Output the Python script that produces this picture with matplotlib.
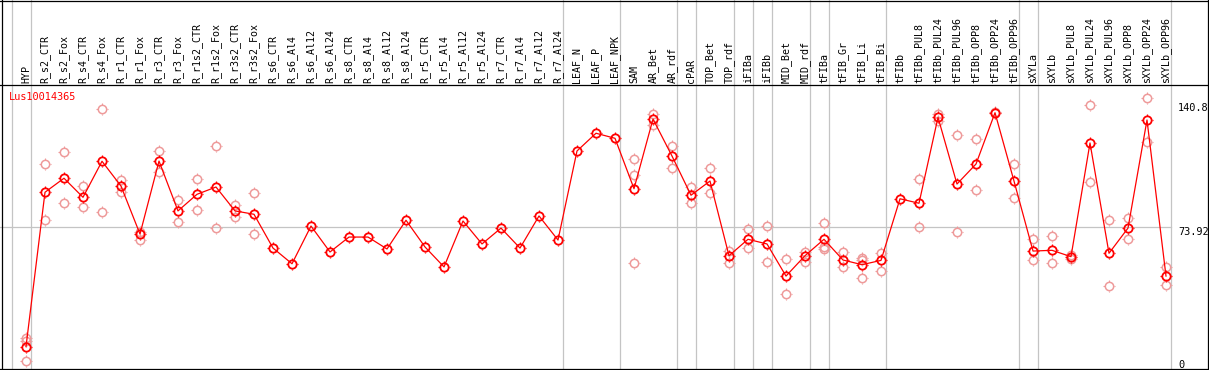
import matplotlib
matplotlib.use("Agg")
import matplotlib.pyplot as plt
from matplotlib.path import Path
import numpy as np

categories = [
    "HYP", "R_s2_CTR", "R_s2_Fox", "R_s4_CTR", "R_s4_Fox", "R_r1_CTR", "R_r1_Fox",
    "R_r3_CTR", "R_r3_Fox", "R_r1s2_CTR", "R_r1s2_Fox", "R_r3s2_CTR", "R_r3s2_Fox",
    "R_s6_CTR", "R_s6_Al4", "R_s6_Al12", "R_s6_Al24", "R_s8_CTR", "R_s8_Al4",
    "R_s8_Al12", "R_s8_Al24", "R_r5_CTR", "R_r5_Al4", "R_r5_Al12", "R_r5_Al24",
    "R_r7_CTR", "R_r7_Al4", "R_r7_Al12", "R_r7_Al24", "LEAF_N", "LEAF_P", "LEAF_NPK",
    "SAM", "AR_Bet", "AR_rdf", "cPAR", "TOP_Bet", "TOP_rdf", "iFIBa", "iFIBb",
    "MID_Bet", "MID_rdf", "tFIBa", "tFIB_Gr", "tFIB_Li", "tFIB_Bi", "tFIBb",
    "tFIBb_PUL8", "tFIBb_PUL24", "tFIBb_PUL96", "tFIBb_OPP8", "tFIBb_OPP24",
    "tFIBb_OPP96", "sXYLa", "sXYLb", "sXYLb_PUL8", "sXYLb_PUL24", "sXYLb_PUL96",
    "sXYLb_OPP8", "sXYLb_OPP24", "sXYLb_OPP96",
]

means = [
    10.1, 92.8, 100.3, 90.1, 109.4, 96.1, 70.4, 109.5, 82.8, 91.7, 95.6, 82.8, 81.0,
    62.9, 54.5, 74.7, 60.8, 68.8, 68.8, 62.4, 77.8, 63.5, 52.8, 77.4, 65.1,
    73.6, 62.9, 80.1, 67.2, 114.9, 124.4, 121.7,
    94.7, 132.0, 112.2, 91.2, 98.8, 58.8, 67.6, 65.1, 47.9, 58.8, 67.6, 56.5,
    54.0, 56.3, 89.3, 86.9, 132.9, 97.2, 107.9, 135.4, 98.8, 61.3, 61.7, 58.3,
    119.2, 60.1, 73.6, 131.5, 47.9,
]

replicates = [
    [14.8, 13.2, 2.4], [107.9, 77.9], [114.2, 86.9], [96.0, 84.7], [137.4, 82.1],
    [99.4, 92.8], [67.2, 71.7], [114.9, 103.5], [88.6, 76.7], [99.9, 83.3],
    [117.6, 73.6], [86.0, 79.4], [92.4, 70.4],
    [], [], [], [], [], [], [], [], [], [], [], [], [], [], [], [], [], [], [],
    [110.4, 102.0, 54.9], [134.7, 128.8], [117.6, 105.9], [95.6, 86.9],
    [105.6, 92.2], [61.3, 54.9], [72.9, 62.8], [74.7, 55.3], [56.9, 38.1],
    [61.0, 55.6], [76.2, 63.6, 62.2], [60.8, 52.6], [57.7, 56.5, 46.7],
    [60.4, 50.5], [], [99.7, 74.0], [134.7, 131.1], [123.5, 71.3], [121.2, 94.0],
    [135.9], [107.8, 89.7], [67.6, 56.3], [69.4, 54.7], [59.2, 56.9],
    [139.5, 98.1], [77.9, 42.6], [79.0, 67.6], [143.1, 119.5], [52.6, 43.0],
]

# last category index of each group (-1 = before the first)
group_ends = [-1, 0, 28, 31, 34, 35, 37, 38, 39, 41, 42, 45, 52, 53, 60]

gene = "Lus10014365"
ref_value = 73.92
max_label = 140.8

W, H = 1209, 370
fig = plt.figure(figsize=(W / 100, H / 100), dpi=100)
ax = fig.add_axes([0, 0, 1, 1])
ax.set_axis_off()

# pixel geometry
x0_px, dx_px = 26.0, 19.0        # first category position and spacing
y0_px, dy_px = 365.5, 1.867      # value 0 row and pixels per unit
ax.set_xlim(-x0_px / dx_px, (W - x0_px) / dx_px)
ax.set_ylim((y0_px - H) / dy_px, y0_px / dy_px)

def fy(py):
    return 1 - py / H

def fx(px):
    return px / W

mono = "DejaVu Sans Mono"
red = "#ff0000"
pale = "#ee9a9a"
grey = "#c4c4c4"
frame_lw = 0.9

# frame lines
ax.plot([0, 1], [fy(0.5), fy(0.5)], color="black", lw=frame_lw, transform=ax.transAxes, clip_on=False)
ax.plot([0, 1], [fy(85), fy(85)], color="black", lw=frame_lw, transform=ax.transAxes)
ax.plot([0, 1], [fy(369), fy(369)], color="black", lw=frame_lw, transform=ax.transAxes)
ax.plot([fx(1.5), fx(1.5)], [0, 1], color="black", lw=frame_lw, transform=ax.transAxes)
ax.plot([fx(1208), fx(1208)], [0, 1], color="black", lw=frame_lw, transform=ax.transAxes)

# group separators
for g in group_ends:
    ax.axvline(g + 0.24, ymin=fy(369), ymax=1, color=grey, lw=0.9, zorder=1)

# reference line
ax.plot([0, fx(1170.5)], [fy(y0_px - ref_value * dy_px)] * 2, color=grey, lw=0.9,
        transform=ax.transAxes, zorder=1)

x = np.arange(len(categories))

# tick-mark marker around circles
tick_path = Path(
    [(0, 0.72), (0, 1), (0, -0.72), (0, -1), (0.72, 0), (1, 0), (-0.72, 0), (-1, 0)],
    [Path.MOVETO, Path.LINETO] * 4,
)

rx, ry = [], []
for i, reps in enumerate(replicates):
    for v in reps:
        rx.append(i)
        ry.append(v)
ax.plot(rx, ry, ls="none", marker="o", ms=6.0, mfc="none", mec=pale, mew=1.1, zorder=2)
ax.plot(rx, ry, ls="none", marker=tick_path, ms=9.0, mfc="none", mec=pale, mew=0.8, zorder=2)

ax.plot(x, means, color=red, lw=0.9, zorder=3)
ax.plot(x, means, ls="none", marker="o", ms=6.0, mfc="none", mec=red, mew=1.3, zorder=4)
ax.plot(x, means, ls="none", marker=tick_path, ms=9.0, mfc="none", mec=red, mew=0.9, zorder=4)

# category labels
for i, lab in enumerate(categories):
    ax.text(i, fy(83), lab, rotation=90, ha="center", va="bottom", fontsize=7.2,
            family=mono, transform=ax.get_xaxis_transform())

# gene name
ax.text(fx(9), fy(92), gene, color=red, fontsize=7.4, family=mono, ha="left", va="top",
        transform=ax.transAxes)

# right value labels
for val, lab in [(max_label, f"{max_label:g}"), (ref_value, f"{ref_value:g}"), (0, "0")]:
    py = y0_px - val * dy_px
    py = min(py, 360)
    ax.text(fx(1178), fy(py), lab, fontsize=7.4, family=mono, ha="left", va="top",
            transform=ax.transAxes)

fig.savefig("out.png", dpi=100)
